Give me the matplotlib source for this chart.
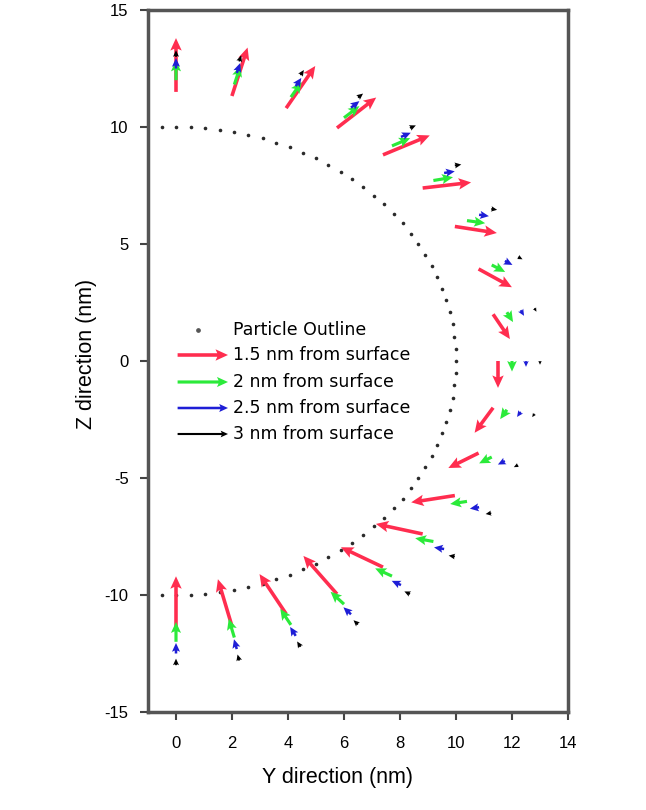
import numpy as np
import matplotlib
matplotlib.use('Agg')
import matplotlib.pyplot as plt

plt.rcParams['font.family'] = ['Liberation Sans', 'DejaVu Sans']
plt.rcParams['axes.unicode_minus'] = False

# ---------------- data ----------------
particle_radius = 10.0
outline_deg = [90, 87, 84, 81, 78, 75, 72, 69, 66, 63, 60, 57, 54, 51, 48, 45, 42, 39,
               36, 33, 30, 27, 24, 21, 18, 15, 12, 9, 6, 3, 0, -3, -6, -9, -12, -15,
               -18, -21, -24, -27, -30, -33, -36, -39, -42, -45, -48, -51, -54, -57,
               -60, -63, -66, -69, -72, -75, -78, -81, -84, -87, -90]
outline_extra_y = [-0.5, -0.5]
outline_extra_z = [10.0, -10.0]

sample_deg = [90, 80, 70, 60, 50, 40, 30, 20, 10, 0, -10, -20, -30, -40, -50, -60, -70, -80, -90]
distances = [1.5, 2.0, 2.5, 3.0]
series_labels = ['1.5 nm from surface', '2 nm from surface',
                 '2.5 nm from surface', '3 nm from surface']

red_u = [0.0, 0.56, 1.04, 1.40, 1.67, 1.73, 1.50, 1.19, 0.60, 0.0,
         -0.66, -1.08, -1.56, -1.67, -1.50, -1.20, -0.95, -0.50, 0.0]
red_w = [2.30, 2.07, 1.80, 1.30, 0.83, 0.24, -0.28, -0.78, -1.06, -1.15,
         -1.07, -0.64, -0.29, 0.43, 0.85, 1.63, 1.70, 2.00, 2.30]

green_u = [0.0, 0.22, 0.38, 0.55, 0.65, 0.70, 0.65, 0.48, 0.22, 0.0,
           -0.24, -0.45, -0.60, -0.65, -0.60, -0.48, -0.38, -0.20, 0.0]
green_w = [0.85, 0.80, 0.65, 0.50, 0.33, 0.14, -0.11, -0.30, -0.42, -0.45,
           -0.40, -0.27, -0.11, 0.14, 0.33, 0.53, 0.68, 0.80, 0.85]

blue_u = [0.0, 0.12, 0.20, 0.30, 0.35, 0.38, 0.35, 0.27, 0.12, 0.0,
          -0.13, -0.25, -0.33, -0.36, -0.33, -0.27, -0.20, -0.10, 0.0]
blue_w = [0.45, 0.42, 0.35, 0.28, 0.18, 0.07, -0.06, -0.17, -0.24, -0.25,
          -0.22, -0.15, -0.06, 0.07, 0.18, 0.30, 0.38, 0.42, 0.45]

black_u = [0.0, 0.07, 0.12, 0.18, 0.21, 0.23, 0.21, 0.16, 0.07, 0.0,
           -0.08, -0.15, -0.20, -0.22, -0.20, -0.16, -0.12, -0.06, 0.0]
black_w = [0.28, 0.26, 0.22, 0.17, 0.11, 0.04, -0.04, -0.10, -0.15, -0.16,
           -0.14, -0.09, -0.04, 0.04, 0.11, 0.18, 0.23, 0.26, 0.28]

x_ticks = [0, 2, 4, 6, 8, 10, 12, 14]
y_ticks = [-15, -10, -5, 0, 5, 10, 15]

# ---------------- figure ----------------
fig = plt.figure(figsize=(6.46, 8.10), dpi=100)
ax = fig.add_axes([148/646, 98/810, 420/646, 702/810])

# particle outline
oa = np.radians(outline_deg)
oy = np.concatenate([particle_radius*np.cos(oa), outline_extra_y])
oz = np.concatenate([particle_radius*np.sin(oa), outline_extra_z])
ax.plot(oy, oz, linestyle='none', marker='o', markersize=2.6,
        color='#2a2a2a', markeredgewidth=0)

# arrows
sa = np.radians(sample_deg)
colors = ['#ff2d4f', '#2bea3a', '#1e1ed6', '#000000']
widths = [0.0085, 0.0075, 0.006, 0.005]
us = [red_u, green_u, blue_u, black_u]
ws = [red_w, green_w, blue_w, black_w]
quivers = []
for d, u, w, c, wd in zip(distances, us, ws, colors, widths):
    r = particle_radius + d
    q = ax.quiver(r*np.cos(sa), r*np.sin(sa), u, w, angles='xy',
                  scale_units='xy', scale=1, color=c, width=wd,
                  headwidth=3.2, headlength=3.5, headaxislength=3.0,
                  minlength=0.5, zorder=3)
    quivers.append(q)

ax.set_xlim(-1, 14)
ax.set_ylim(-15, 15)
ax.set_xticks(x_ticks)
ax.set_yticks(y_ticks)

for s in ax.spines.values():
    s.set_linewidth(2.5)
    s.set_color('#555555')

ax.tick_params(axis='x', direction='out', length=6, width=1.5, pad=11,
               labelsize=12, color='#444444')
ax.tick_params(axis='y', direction='out', length=6, width=1.5, pad=8,
               labelsize=12, color='#444444')

ax.set_xlabel('Y direction (nm)', fontsize=15.5)
ax.xaxis.set_label_coords((337-148)/420, -(767-712)/702)
ax.set_ylabel('Z direction (nm)', fontsize=15.5)
ax.yaxis.set_label_coords(-(148-97)/420, (712-354)/702)

# legend
ax.plot([(198-148)/420], [(712-330)/702], transform=ax.transAxes,
        marker='o', markersize=2.4, color='#555555', linestyle='none')
ax.text((233-148)/420, (712-330)/702, 'Particle Outline', transform=ax.transAxes,
        fontsize=12.5, va='center', ha='left', family='DejaVu Sans')
row_px = [355, 382, 408, 434]
for q, lab, ypx in zip(quivers, series_labels, row_px):
    ax.quiverkey(q, (228-148)/420, (712-ypx)/702, 1.8, lab, labelpos='E',
                 coordinates='axes', labelsep=0.05,
                 fontproperties={'size': 12.5, 'family': 'DejaVu Sans'})

fig.savefig('out.png', dpi=100)
